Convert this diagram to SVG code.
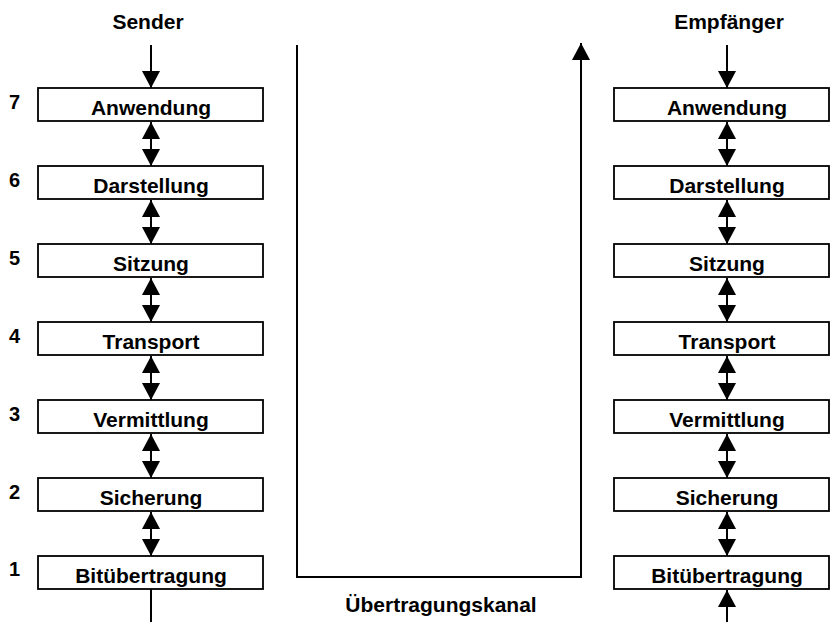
<svg xmlns="http://www.w3.org/2000/svg" width="831" height="622" viewBox="0 0 831 622">
  <style>
    text { font-family: "Liberation Sans", Arial, sans-serif; font-weight: bold; fill: #000; }
    .lbl { font-size: 21px; text-anchor: middle; }
    .num { font-size: 20px; }
    .box { fill: #fff; stroke: #000; stroke-width: 1.8; }
    .ln { stroke: #000; stroke-width: 2; fill: none; }
  </style>
  <defs>
    <marker id="head" viewBox="0 0 17 18" refX="17" refY="9" markerWidth="17" markerHeight="18" markerUnits="userSpaceOnUse" orient="auto-start-reverse">
      <path d="M0,0 L17,9 L0,18 Z" fill="#000"/>
    </marker>
  </defs>
  <rect width="831" height="622" fill="#fff"/>

  <!-- column titles -->
  <text class="lbl" x="148" y="29">Sender</text>
  <text class="lbl" x="729" y="29">Empfänger</text>

  <!-- connectors -->
  <g id="connectors">
    <!-- sender input and output -->
    <line class="ln" x1="151" y1="45" x2="151" y2="88" marker-end="url(#head)"/>
    <line class="ln" x1="151" y1="589" x2="151" y2="622"/>
    <!-- receiver input and output -->
    <line class="ln" x1="727" y1="45" x2="727" y2="88" marker-end="url(#head)"/>
    <line class="ln" x1="727" y1="622" x2="727" y2="590" marker-end="url(#head)"/>
    <!-- layer-to-layer links, sender side -->
    <line class="ln" x1="151" y1="122" x2="151" y2="166" marker-start="url(#head)" marker-end="url(#head)"/>
    <line class="ln" x1="151" y1="200" x2="151" y2="244" marker-start="url(#head)" marker-end="url(#head)"/>
    <line class="ln" x1="151" y1="278" x2="151" y2="322" marker-start="url(#head)" marker-end="url(#head)"/>
    <line class="ln" x1="151" y1="356" x2="151" y2="400" marker-start="url(#head)" marker-end="url(#head)"/>
    <line class="ln" x1="151" y1="434" x2="151" y2="478" marker-start="url(#head)" marker-end="url(#head)"/>
    <line class="ln" x1="151" y1="512" x2="151" y2="556" marker-start="url(#head)" marker-end="url(#head)"/>
    <!-- layer-to-layer links, receiver side -->
    <line class="ln" x1="727" y1="122" x2="727" y2="166" marker-start="url(#head)" marker-end="url(#head)"/>
    <line class="ln" x1="727" y1="200" x2="727" y2="244" marker-start="url(#head)" marker-end="url(#head)"/>
    <line class="ln" x1="727" y1="278" x2="727" y2="322" marker-start="url(#head)" marker-end="url(#head)"/>
    <line class="ln" x1="727" y1="356" x2="727" y2="400" marker-start="url(#head)" marker-end="url(#head)"/>
    <line class="ln" x1="727" y1="434" x2="727" y2="478" marker-start="url(#head)" marker-end="url(#head)"/>
    <line class="ln" x1="727" y1="512" x2="727" y2="556" marker-start="url(#head)" marker-end="url(#head)"/>
    <!-- transmission channel -->
    <path class="ln" d="M297,45 V577 H581 V43" marker-end="url(#head)"/>
  </g>
  <text class="lbl" x="441" y="612">Übertragungskanal</text>

  <!-- layer numbers -->
  <text class="num" x="9" y="109">7</text>
  <text class="num" x="9" y="187">6</text>
  <text class="num" x="9" y="265">5</text>
  <text class="num" x="9" y="343">4</text>
  <text class="num" x="9" y="421">3</text>
  <text class="num" x="9" y="499">2</text>
  <text class="num" x="9" y="576">1</text>

  <!-- sender stack -->
  <g id="s7"><rect class="box" x="38" y="88" width="225" height="33"/><text class="lbl" x="151" y="115">Anwendung</text></g>
  <g id="s6"><rect class="box" x="38" y="166" width="225" height="33"/><text class="lbl" x="151" y="193">Darstellung</text></g>
  <g id="s5"><rect class="box" x="38" y="244" width="225" height="33"/><text class="lbl" x="151" y="271">Sitzung</text></g>
  <g id="s4"><rect class="box" x="38" y="322" width="225" height="33"/><text class="lbl" x="151" y="349">Transport</text></g>
  <g id="s3"><rect class="box" x="38" y="400" width="225" height="33"/><text class="lbl" x="151" y="427">Vermittlung</text></g>
  <g id="s2"><rect class="box" x="38" y="478" width="225" height="33"/><text class="lbl" x="151" y="505">Sicherung</text></g>
  <g id="s1"><rect class="box" x="38" y="556" width="225" height="33"/><text class="lbl" x="151" y="583">Bitübertragung</text></g>

  <!-- receiver stack -->
  <g id="r7"><rect class="box" x="614" y="88" width="215" height="33"/><text class="lbl" x="727" y="115">Anwendung</text></g>
  <g id="r6"><rect class="box" x="614" y="166" width="215" height="33"/><text class="lbl" x="727" y="193">Darstellung</text></g>
  <g id="r5"><rect class="box" x="614" y="244" width="215" height="33"/><text class="lbl" x="727" y="271">Sitzung</text></g>
  <g id="r4"><rect class="box" x="614" y="322" width="215" height="33"/><text class="lbl" x="727" y="349">Transport</text></g>
  <g id="r3"><rect class="box" x="614" y="400" width="215" height="33"/><text class="lbl" x="727" y="427">Vermittlung</text></g>
  <g id="r2"><rect class="box" x="614" y="478" width="215" height="33"/><text class="lbl" x="727" y="505">Sicherung</text></g>
  <g id="r1"><rect class="box" x="614" y="556" width="215" height="33"/><text class="lbl" x="727" y="583">Bitübertragung</text></g>
</svg>
